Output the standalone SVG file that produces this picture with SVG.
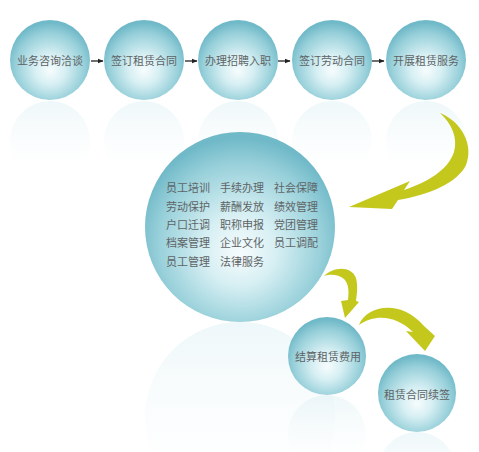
<svg xmlns="http://www.w3.org/2000/svg" width="479" height="452" viewBox="0 0 479 452">
<defs>
<radialGradient id="ball" cx="50%" cy="58%" r="55%" fx="50%" fy="64%">
<stop offset="0" stop-color="#f7fcfd"/>
<stop offset="0.35" stop-color="#d6eff3"/>
<stop offset="0.78" stop-color="#98d0da"/>
<stop offset="1" stop-color="#70b9c8"/>
</radialGradient>
<linearGradient id="refl" x1="0" y1="0" x2="0" y2="1">
<stop offset="0" stop-color="#d4ecf1" stop-opacity="0.4"/>
<stop offset="0.45" stop-color="#e6f3f6" stop-opacity="0.2"/>
<stop offset="1" stop-color="#ffffff" stop-opacity="0"/>
</linearGradient>
<marker id="ah" viewBox="0 0 10 10" refX="9" refY="5" markerWidth="6" markerHeight="6" markerUnits="userSpaceOnUse" orient="auto">
<path d="M0,1 L10,5 L0,9 Z" fill="#222"/>
</marker>
<style>
.ball{fill:url(#ball)}
.refl{fill:url(#refl)}
.t{font-family:"Noto Sans CJK SC","Noto Sans",sans-serif;font-size:11px;fill:#5e6466;text-anchor:middle}
.tl{font-family:"Noto Sans CJK SC","Noto Sans",sans-serif;font-size:11px;fill:#5e6466}
.yl{fill:#c4c81c}
.bk{stroke:#222;stroke-width:1.3;fill:none;marker-end:url(#ah)}
</style>
</defs>
<rect width="479" height="452" fill="#ffffff"/>
<g id="reflections">
<circle class="refl" cx="50" cy="141" r="40"/>
<circle class="refl" cx="144" cy="141" r="40"/>
<circle class="refl" cx="238" cy="141" r="40"/>
<circle class="refl" cx="332" cy="141" r="40"/>
<circle class="refl" cx="426" cy="141" r="40"/>
<circle class="refl" cx="240" cy="417" r="95"/>
<circle class="refl" cx="327" cy="434" r="39"/>
<circle class="refl" cx="417" cy="471" r="39"/>
</g>
<g id="n1"><circle class="ball" cx="50" cy="60" r="40"/><text class="t" x="50" y="65">业务咨询洽谈</text></g>
<g id="n2"><circle class="ball" cx="144" cy="60" r="40"/><text class="t" x="144" y="65">签订租赁合同</text></g>
<g id="n3"><circle class="ball" cx="238" cy="60" r="40"/><text class="t" x="238" y="65">办理招聘入职</text></g>
<g id="n4"><circle class="ball" cx="332" cy="60" r="40"/><text class="t" x="332" y="65">签订劳动合同</text></g>
<g id="n5"><circle class="ball" cx="426" cy="60" r="40"/><text class="t" x="426" y="65">开展租赁服务</text></g>
<g id="n6">
<circle class="ball" cx="240" cy="227" r="95"/>
<text class="tl" x="166" y="192">员工培训</text><text class="tl" x="220" y="192">手续办理</text><text class="tl" x="274" y="192">社会保障</text>
<text class="tl" x="166" y="211">劳动保护</text><text class="tl" x="220" y="211">薪酬发放</text><text class="tl" x="274" y="211">绩效管理</text>
<text class="tl" x="166" y="229">户口迁调</text><text class="tl" x="220" y="229">职称申报</text><text class="tl" x="274" y="229">党团管理</text>
<text class="tl" x="166" y="247">档案管理</text><text class="tl" x="220" y="247">企业文化</text><text class="tl" x="274" y="247">员工调配</text>
<text class="tl" x="166" y="266">员工管理</text><text class="tl" x="220" y="266">法律服务</text>
</g>
<g id="n7"><circle class="ball" cx="327" cy="356" r="39"/><text class="t" x="328" y="361">结算租赁费用</text></g>
<g id="n8"><circle class="ball" cx="417" cy="393" r="39"/><text class="t" x="417" y="399">租赁合同续签</text></g>
<g id="connectors">
<line class="bk" x1="91" y1="61" x2="103" y2="61"/>
<line class="bk" x1="185" y1="61" x2="197" y2="61"/>
<line class="bk" x1="278" y1="61" x2="290" y2="61"/>
<line class="bk" x1="372" y1="61" x2="384" y2="61"/>
<path class="yl" d="M440,113 C462,122 474,145 466,165 C458,182 430,195 398,200 L392,209 L349,207 L410,181 L404,190 C428,182 448,170 454,152 C458,138 452,124 440,113 Z"/>
<path class="yl" d="M324,276 C333,267 351,265 356,278 C358,286 357,294 356,301 L359,302 L345,318 L341,301 L348,300 C349,292 349,284 344,279 C338,274 330,274 324,276 Z"/>
<path class="yl" d="M359,325 C366,306 400,298 424,326 L435,336 L425,351 L406,331 L413,332 C397,316 376,313 359,325 Z"/>
</g>
</svg>
